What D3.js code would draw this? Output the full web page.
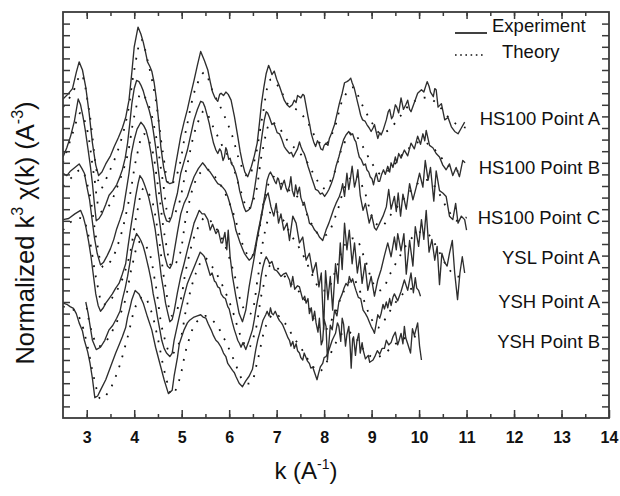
<!DOCTYPE html>
<html><head><meta charset="utf-8">
<script src="https://cdn.jsdelivr.net/npm/d3@7"></script>
<style>body{margin:0;background:#fff}svg{display:block}text{font-family:"Liberation Sans",Arial,sans-serif}</style>
</head><body><svg id="c" width="620" height="496"></svg>
<script>
// ---------------- data ----------------
const xTicks = [3,4,5,6,7,8,9,10,11,12,13,14];
const seriesNames = ["HS100 Point A","HS100 Point B","HS100 Point C","YSL Point A","YSH Point A","YSH Point B"];
const labelLevels = [25.9, 21.6, 17.3, 13.9, 10.1, 6.6];

const expA = [[2.50,27.5],[2.60,27.9],[2.70,28.4],[2.78,29.8],[2.84,30.7],[2.91,30.0],[2.98,28.5],[3.05,26.3],[3.12,23.7],[3.19,21.8],[3.25,20.9],[3.32,21.2],[3.40,21.9],[3.50,22.6],[3.58,23.4],[3.67,24.2],[3.75,25.0],[3.82,25.9],[3.89,27.4],[3.95,29.8],[4.00,32.0],[4.08,33.7],[4.14,33.1],[4.19,32.4],[4.24,31.5],[4.28,30.7],[4.33,30.3],[4.37,29.9],[4.42,28.9],[4.47,27.4],[4.52,25.4],[4.56,23.4],[4.62,21.6],[4.68,20.4],[4.75,20.2],[4.81,20.3],[4.88,22.0],[4.98,24.3],[5.05,25.5],[5.12,26.6],[5.19,27.9],[5.26,29.1],[5.33,30.4],[5.40,31.6],[5.48,30.8],[5.55,30.0],[5.60,29.0],[5.65,28.1],[5.70,27.6],[5.76,27.3],[5.80,27.9],[5.83,28.0],[5.88,27.8],[5.93,28.1],[5.98,27.9],[6.04,27.4],[6.11,26.0],[6.18,24.3],[6.23,23.0],[6.28,22.0],[6.33,21.2],[6.39,20.8],[6.47,21.7],[6.53,22.6],[6.59,23.7],[6.64,25.5],[6.68,27.1],[6.73,28.5],[6.78,29.7],[6.83,30.4],[6.87,30.0],[6.90,29.6],[6.95,29.9],[7.00,29.2],[7.06,28.6],[7.11,28.0],[7.16,27.4],[7.22,27.0],[7.27,26.8],[7.33,27.0],[7.37,27.4],[7.41,27.2],[7.44,27.8],[7.51,27.6],[7.55,27.9],[7.58,27.8],[7.62,26.9],[7.66,26.0],[7.70,25.2],[7.73,24.5],[7.78,23.8],[7.82,23.4],[7.86,23.9],[7.89,23.7],[7.93,23.2],[7.97,23.1],[8.00,23.5],[8.04,23.7],[8.08,23.5],[8.11,24.1],[8.16,24.6],[8.22,25.3],[8.27,26.2],[8.32,27.1],[8.38,28.0],[8.43,28.9],[8.48,29.0],[8.52,29.1],[8.56,29.3],[8.59,28.9],[8.63,28.5],[8.66,28.0],[8.70,27.3],[8.73,26.8],[8.77,26.1],[8.81,25.7],[8.86,25.6],[8.90,25.3],[8.95,25.0],[8.99,24.7],[9.03,25.0],[9.06,25.3],[9.10,24.6],[9.13,24.1],[9.17,24.6],[9.20,24.4],[9.25,24.9],[9.31,25.7],[9.35,26.4],[9.38,26.6],[9.42,25.8],[9.45,26.0],[9.50,27.0],[9.53,26.8],[9.57,26.3],[9.62,27.6],[9.67,26.6],[9.72,27.0],[9.76,27.4],[9.80,26.6],[9.83,26.4],[9.90,27.2],[9.97,28.0],[10.05,28.3],[10.10,28.1],[10.17,29.0],[10.21,28.6],[10.24,28.1],[10.30,27.7],[10.33,28.4],[10.36,28.3],[10.40,26.8],[10.47,27.1],[10.54,25.7],[10.61,25.9],[10.68,25.1],[10.75,24.7],[10.82,24.5],[10.89,25.0],[10.96,25.5]];
const expB = [[2.50,22.5],[2.58,23.3],[2.66,24.3],[2.74,25.6],[2.82,27.5],[2.87,27.0],[2.92,26.0],[2.97,24.8],[3.03,23.1],[3.08,21.6],[3.12,20.2],[3.16,18.5],[3.20,17.0],[3.26,17.2],[3.32,17.6],[3.40,18.4],[3.47,19.2],[3.55,19.6],[3.63,20.1],[3.69,20.7],[3.75,21.4],[3.81,22.4],[3.86,23.7],[3.91,25.5],[3.95,27.1],[4.00,28.4],[4.05,29.1],[4.10,29.0],[4.14,28.7],[4.19,28.2],[4.23,27.6],[4.27,27.1],[4.31,26.6],[4.36,25.8],[4.40,24.8],[4.45,23.4],[4.49,22.0],[4.54,20.3],[4.58,18.8],[4.63,17.6],[4.68,17.0],[4.74,16.9],[4.79,17.4],[4.84,18.3],[4.91,19.4],[4.98,21.1],[5.05,22.1],[5.12,23.1],[5.19,24.4],[5.26,25.7],[5.33,26.6],[5.40,27.3],[5.45,27.2],[5.49,26.8],[5.53,26.2],[5.58,25.4],[5.62,24.6],[5.67,23.7],[5.72,23.1],[5.76,22.8],[5.80,23.2],[5.83,23.0],[5.87,22.2],[5.90,22.5],[5.93,23.3],[5.95,23.1],[5.99,22.3],[6.02,22.4],[6.05,21.9],[6.09,21.7],[6.14,21.1],[6.18,20.5],[6.22,19.6],[6.27,18.8],[6.31,18.2],[6.35,17.8],[6.40,17.9],[6.45,18.1],[6.50,18.9],[6.54,19.9],[6.59,21.3],[6.64,22.8],[6.69,24.3],[6.74,25.7],[6.78,26.4],[6.81,26.3],[6.85,25.9],[6.90,25.3],[6.94,25.4],[6.97,25.1],[7.01,24.6],[7.06,24.5],[7.11,24.0],[7.16,23.4],[7.21,23.1],[7.27,22.8],[7.31,22.9],[7.35,22.5],[7.40,22.9],[7.44,23.2],[7.48,23.8],[7.51,23.4],[7.55,23.0],[7.58,22.8],[7.62,22.3],[7.66,21.7],[7.70,21.2],[7.73,20.8],[7.78,20.2],[7.82,19.7],[7.87,19.6],[7.92,19.3],[7.96,19.4],[8.01,19.1],[8.06,19.4],[8.10,19.7],[8.15,20.2],[8.20,20.8],[8.25,21.7],[8.31,22.5],[8.36,23.3],[8.41,24.0],[8.46,24.4],[8.52,24.7],[8.56,24.4],[8.60,24.5],[8.64,24.0],[8.67,23.8],[8.71,23.0],[8.74,22.5],[8.78,22.3],[8.83,21.8],[8.87,21.9],[8.90,21.4],[8.94,21.2],[8.97,20.8],[9.01,20.6],[9.04,20.1],[9.07,20.7],[9.10,21.1],[9.14,20.4],[9.17,20.4],[9.21,21.0],[9.25,21.4],[9.29,21.0],[9.34,21.7],[9.38,21.2],[9.41,22.0],[9.45,21.6],[9.50,22.5],[9.53,22.0],[9.57,22.8],[9.62,22.4],[9.69,23.1],[9.76,22.6],[9.83,23.7],[9.90,23.2],[9.97,24.3],[10.03,23.6],[10.08,24.5],[10.12,23.9],[10.15,24.8],[10.22,23.5],[10.29,23.3],[10.36,22.8],[10.43,22.5],[10.50,21.8],[10.57,21.4],[10.64,21.9],[10.71,20.9],[10.78,21.6],[10.85,20.8],[10.92,22.2],[10.97,22.0]];
const expC = [[2.50,21.1],[2.58,20.9],[2.66,21.3],[2.75,21.6],[2.84,21.9],[2.90,21.5],[2.95,21.1],[3.00,20.0],[3.06,18.8],[3.11,17.2],[3.16,15.6],[3.22,14.2],[3.29,13.2],[3.35,13.4],[3.43,14.0],[3.50,14.6],[3.57,15.4],[3.63,16.3],[3.70,17.1],[3.77,18.0],[3.84,19.8],[3.89,21.1],[3.94,22.8],[4.00,24.0],[4.06,24.9],[4.14,25.5],[4.20,25.2],[4.25,24.8],[4.30,24.0],[4.35,22.9],[4.41,21.2],[4.46,19.3],[4.52,17.4],[4.58,15.6],[4.64,14.0],[4.70,13.1],[4.75,12.9],[4.80,13.3],[4.84,14.3],[4.91,16.0],[4.98,17.6],[5.05,18.5],[5.12,19.1],[5.19,20.0],[5.26,20.8],[5.35,21.5],[5.44,22.0],[5.50,21.7],[5.55,21.4],[5.60,21.2],[5.65,20.9],[5.71,20.5],[5.76,20.2],[5.81,20.1],[5.86,19.9],[5.92,19.6],[5.97,19.1],[6.02,18.4],[6.07,17.6],[6.11,16.9],[6.14,16.2],[6.19,15.6],[6.23,15.1],[6.28,14.6],[6.32,14.2],[6.37,13.9],[6.42,13.6],[6.47,13.8],[6.52,14.2],[6.56,15.0],[6.60,15.9],[6.66,17.1],[6.71,18.2],[6.76,19.4],[6.80,20.5],[6.84,21.0],[6.87,21.2],[6.92,20.8],[6.96,20.4],[6.99,20.2],[7.02,20.7],[7.04,20.6],[7.07,20.1],[7.09,19.7],[7.13,20.2],[7.16,20.5],[7.20,19.8],[7.23,19.5],[7.27,20.0],[7.30,20.8],[7.33,19.6],[7.37,19.1],[7.40,20.1],[7.44,19.3],[7.48,19.9],[7.51,19.0],[7.55,18.5],[7.58,18.6],[7.62,17.9],[7.66,17.4],[7.69,16.8],[7.75,16.6],[7.80,16.2],[7.85,16.0],[7.90,15.6],[7.97,15.3],[8.04,16.2],[8.10,16.8],[8.15,17.4],[8.20,18.0],[8.25,18.5],[8.32,19.1],[8.36,19.6],[8.39,20.2],[8.43,19.1],[8.48,21.1],[8.52,19.7],[8.55,20.5],[8.59,21.7],[8.64,19.9],[8.68,20.6],[8.71,21.4],[8.76,19.2],[8.82,17.9],[8.87,18.5],[8.95,16.8],[9.00,17.5],[9.06,16.4],[9.10,16.2],[9.17,16.8],[9.24,17.4],[9.31,18.2],[9.36,19.7],[9.41,18.0],[9.48,19.1],[9.52,17.8],[9.56,19.4],[9.61,17.4],[9.66,19.3],[9.73,18.0],[9.80,20.2],[9.87,18.8],[9.94,19.9],[10.01,21.1],[10.08,19.9],[10.13,22.2],[10.19,20.5],[10.24,21.6],[10.31,18.7],[10.36,21.3],[10.43,19.6],[10.50,19.4],[10.57,19.1],[10.64,17.4],[10.71,17.1],[10.77,18.5],[10.82,16.8],[10.89,17.4],[10.96,17.1],[11.00,16.2]];
const expYSL = [[2.50,17.1],[2.62,17.2],[2.75,17.6],[2.87,17.9],[2.93,17.3],[2.98,16.5],[3.04,15.2],[3.09,13.9],[3.14,12.3],[3.19,10.7],[3.24,9.7],[3.29,9.2],[3.35,9.5],[3.40,9.9],[3.47,10.3],[3.54,10.7],[3.61,11.2],[3.68,11.6],[3.75,12.4],[3.82,13.3],[3.87,14.8],[3.93,16.5],[3.98,17.8],[4.03,19.1],[4.08,20.2],[4.12,20.9],[4.17,20.6],[4.21,20.2],[4.26,19.6],[4.30,19.1],[4.35,18.2],[4.39,17.4],[4.44,16.3],[4.48,15.1],[4.53,13.6],[4.57,12.2],[4.62,11.0],[4.66,9.9],[4.71,9.0],[4.75,8.3],[4.80,8.5],[4.84,9.2],[4.91,10.8],[4.98,12.2],[5.05,13.3],[5.12,14.5],[5.19,15.6],[5.26,16.8],[5.32,17.4],[5.37,17.9],[5.43,17.6],[5.48,17.6],[5.55,17.1],[5.60,16.2],[5.65,16.7],[5.72,15.9],[5.77,16.2],[5.83,15.1],[5.86,15.1],[5.91,16.0],[5.95,14.5],[5.98,16.2],[6.02,13.9],[6.07,12.2],[6.14,10.5],[6.21,9.0],[6.28,8.3],[6.35,9.3],[6.42,11.3],[6.47,12.5],[6.53,13.9],[6.58,15.2],[6.64,16.5],[6.69,17.6],[6.73,18.5],[6.78,19.1],[6.82,19.4],[6.88,18.2],[6.94,17.4],[6.99,18.5],[7.04,16.8],[7.09,17.6],[7.15,16.2],[7.22,16.8],[7.27,15.3],[7.34,17.4],[7.41,16.8],[7.48,15.1],[7.55,15.6],[7.62,13.6],[7.69,14.2],[7.76,12.5],[7.83,13.4],[7.89,11.3],[7.94,12.5],[7.99,7.6],[8.03,12.7],[8.08,10.2],[8.13,12.2],[8.18,9.3],[8.24,13.3],[8.29,11.6],[8.34,15.1],[8.38,12.8],[8.43,16.8],[8.48,14.5],[8.53,16.2],[8.59,13.3],[8.64,15.1],[8.70,12.5],[8.75,13.9],[8.80,11.6],[8.86,13.3],[8.92,11.0],[8.99,12.2],[9.06,10.5],[9.13,11.9],[9.20,12.8],[9.27,14.0],[9.34,15.1],[9.41,13.9],[9.48,15.6],[9.52,14.5],[9.55,15.9],[9.62,14.4],[9.68,15.9],[9.73,12.4],[9.80,15.3],[9.87,13.1],[9.92,16.5],[9.99,14.8],[10.05,17.1],[10.10,15.4],[10.15,17.9],[10.21,14.3],[10.27,15.4],[10.33,13.6],[10.38,14.8],[10.43,11.5],[10.48,14.2],[10.54,13.4],[10.59,13.1],[10.64,14.2],[10.70,15.3],[10.75,12.5],[10.81,10.2],[10.86,12.5],[10.91,13.9],[10.96,12.5]];
const expYSHA = [[2.98,10.0],[3.03,9.0],[3.06,8.2],[3.12,6.7],[3.20,5.9],[3.29,6.1],[3.38,6.7],[3.47,7.6],[3.55,8.0],[3.63,8.6],[3.70,9.2],[3.75,10.2],[3.81,11.2],[3.86,12.2],[3.91,13.4],[3.95,14.5],[4.00,15.3],[4.05,15.9],[4.10,15.6],[4.14,15.3],[4.19,14.8],[4.23,14.2],[4.27,13.5],[4.31,12.8],[4.36,11.8],[4.40,10.7],[4.45,9.7],[4.49,8.7],[4.54,7.6],[4.58,6.7],[4.63,6.0],[4.68,5.6],[4.75,5.3],[4.80,5.6],[4.84,6.7],[4.91,8.0],[4.98,9.3],[5.05,10.5],[5.12,11.6],[5.19,12.3],[5.26,13.0],[5.33,13.7],[5.39,14.3],[5.44,14.1],[5.48,13.9],[5.52,13.4],[5.55,13.0],[5.60,12.3],[5.64,12.5],[5.69,11.8],[5.72,11.7],[5.76,11.3],[5.80,11.2],[5.83,10.7],[5.88,10.4],[5.92,10.3],[5.97,9.6],[6.00,9.4],[6.04,8.7],[6.07,8.2],[6.11,7.6],[6.15,7.1],[6.18,6.7],[6.22,6.4],[6.25,6.1],[6.29,6.5],[6.32,6.2],[6.35,5.9],[6.42,6.7],[6.49,7.6],[6.53,8.5],[6.56,9.3],[6.60,10.2],[6.64,11.0],[6.67,12.1],[6.71,13.0],[6.75,13.6],[6.78,13.9],[6.82,13.6],[6.85,13.3],[6.90,13.5],[6.95,12.8],[7.00,12.7],[7.04,12.5],[7.09,12.2],[7.14,12.4],[7.20,12.5],[7.27,11.9],[7.30,11.3],[7.34,12.2],[7.38,11.1],[7.44,11.4],[7.48,11.3],[7.55,10.2],[7.59,10.5],[7.62,9.9],[7.66,10.3],[7.69,9.0],[7.73,9.5],[7.76,8.4],[7.80,9.2],[7.83,8.2],[7.87,7.4],[7.90,8.6],[7.94,6.3],[7.97,6.7],[8.00,8.5],[8.04,7.9],[8.07,5.0],[8.10,6.4],[8.13,8.0],[8.17,7.6],[8.22,9.3],[8.27,8.8],[8.31,10.0],[8.38,10.7],[8.42,11.2],[8.46,11.6],[8.50,11.4],[8.53,12.2],[8.57,11.7],[8.60,12.0],[8.64,11.4],[8.67,11.0],[8.72,10.4],[8.77,10.3],[8.82,9.3],[8.87,9.0],[8.91,8.7],[8.95,8.3],[8.99,7.9],[9.03,7.6],[9.06,7.3],[9.10,8.2],[9.13,8.9],[9.17,8.6],[9.20,9.0],[9.24,9.8],[9.27,9.4],[9.31,10.0],[9.34,9.5],[9.38,10.3],[9.41,9.7],[9.45,10.4],[9.48,10.7],[9.55,10.1],[9.62,10.9],[9.69,11.9],[9.76,11.0],[9.83,12.5],[9.88,10.8],[9.92,12.1],[9.95,11.2],[9.99,11.0],[10.03,10.5]];
const expYSHB = [[2.50,9.9],[2.58,9.8],[2.65,9.6],[2.72,9.45],[2.78,9.0],[2.84,8.2],[2.91,7.5],[2.95,6.7],[3.02,5.7],[3.07,4.7],[3.12,3.4],[3.17,1.75],[3.23,1.9],[3.29,2.4],[3.40,3.3],[3.50,4.4],[3.61,5.6],[3.68,6.3],[3.75,7.0],[3.82,7.8],[3.86,8.7],[3.91,9.5],[3.95,10.2],[4.02,11.0],[4.10,10.7],[4.19,9.9],[4.28,8.7],[4.37,7.6],[4.45,6.1],[4.54,4.7],[4.63,3.3],[4.72,2.1],[4.80,2.4],[4.84,3.6],[4.91,5.2],[4.95,6.4],[5.05,7.6],[5.12,8.2],[5.16,8.4],[5.26,8.7],[5.33,8.8],[5.40,8.9],[5.45,8.7],[5.51,8.6],[5.56,8.1],[5.62,7.6],[5.67,7.1],[5.72,6.7],[5.77,6.5],[5.83,6.1],[5.88,5.6],[5.93,5.3],[5.97,4.7],[6.02,4.4],[6.07,4.1],[6.11,3.9],[6.14,3.6],[6.21,3.0],[6.28,2.7],[6.35,3.2],[6.42,3.6],[6.49,4.2],[6.52,4.9],[6.56,5.9],[6.60,6.7],[6.64,7.3],[6.71,8.4],[6.77,8.9],[6.80,9.2],[6.84,8.8],[6.87,9.5],[6.90,9.0],[6.93,8.9],[6.97,9.2],[7.02,8.7],[7.06,8.4],[7.10,8.2],[7.13,8.0],[7.17,7.6],[7.20,7.3],[7.24,6.9],[7.27,6.7],[7.30,6.2],[7.34,6.6],[7.37,6.0],[7.41,6.4],[7.44,5.8],[7.48,5.6],[7.51,5.2],[7.55,5.0],[7.58,5.6],[7.62,5.2],[7.65,4.9],[7.69,4.7],[7.72,4.3],[7.76,4.4],[7.80,3.9],[7.85,3.3],[7.88,3.8],[7.92,4.4],[7.97,4.7],[8.00,5.2],[8.04,5.3],[8.08,5.6],[8.13,6.2],[8.17,6.7],[8.24,7.3],[8.28,8.2],[8.31,7.9],[8.35,6.6],[8.38,8.6],[8.41,8.1],[8.45,6.2],[8.48,7.2],[8.52,7.9],[8.55,6.0],[8.57,4.3],[8.60,6.8],[8.62,7.0],[8.66,5.4],[8.69,6.6],[8.73,7.3],[8.76,5.6],[8.80,6.5],[8.82,5.9],[8.87,5.1],[8.93,5.4],[8.96,4.8],[9.03,5.0],[9.08,5.4],[9.12,5.8],[9.17,5.5],[9.22,6.0],[9.27,6.0],[9.31,6.7],[9.36,6.3],[9.41,6.5],[9.45,7.0],[9.50,7.4],[9.55,6.3],[9.58,6.7],[9.62,7.3],[9.66,6.4],[9.69,7.9],[9.72,6.9],[9.76,6.4],[9.82,5.6],[9.86,7.7],[9.90,7.1],[9.97,8.2],[10.01,6.2],[10.05,5.0]];

const thA = [[2.5,26.8],[2.7,28.0],[2.88,29.6],[3.05,26.5],[3.2,21.5],[3.3,19.8],[3.45,21.0],[3.65,23.0],[3.85,26.0],[4.0,30.0],[4.15,32.6],[4.3,30.5],[4.45,27.5],[4.6,23.0],[4.75,20.0],[4.9,21.0],[5.1,25.0],[5.3,28.5],[5.48,29.8],[5.65,28.2],[5.85,26.5],[6.05,24.5],[6.25,21.8],[6.4,20.8],[6.55,22.5],[6.7,26.0],[6.88,29.2],[7.05,28.5],[7.25,27.0],[7.45,26.5],[7.65,25.5],[7.85,24.0],[8.0,23.5],[8.2,24.8],[8.4,27.5],[8.6,28.5],[8.8,27.0],[9.0,25.5],[9.2,24.5],[9.4,25.0],[9.6,26.0],[9.8,27.0],[10.0,27.5],[10.2,27.6],[10.4,27.0],[10.6,26.0],[10.8,25.3],[11.0,25.0]];
const thB = [[2.5,22.0],[2.7,24.5],[2.87,26.3],[3.0,25.0],[3.15,21.0],[3.3,17.8],[3.45,18.2],[3.65,20.0],[3.85,22.5],[4.0,26.0],[4.15,28.0],[4.3,27.0],[4.45,24.5],[4.6,20.5],[4.75,17.2],[4.9,18.0],[5.1,21.5],[5.3,25.0],[5.48,26.5],[5.65,25.2],[5.85,23.5],[6.05,22.0],[6.25,19.5],[6.4,18.0],[6.55,19.3],[6.7,23.0],[6.88,25.5],[7.05,25.0],[7.25,23.8],[7.45,23.0],[7.65,22.0],[7.85,20.5],[8.0,19.8],[8.2,21.0],[8.4,23.5],[8.6,24.6],[8.8,23.5],[9.0,22.0],[9.2,21.0],[9.4,21.5],[9.6,22.5],[9.8,23.3],[10.0,23.8],[10.2,23.6],[10.4,22.8],[10.6,21.8],[10.8,21.3],[11.0,21.5]];
const thC = [[2.5,20.0],[2.7,20.8],[2.88,21.4],[3.05,19.5],[3.2,15.5],[3.35,13.0],[3.5,13.5],[3.7,15.5],[3.9,19.0],[4.05,22.5],[4.2,24.5],[4.35,23.5],[4.5,20.0],[4.65,15.5],[4.8,13.0],[4.95,14.0],[5.1,17.5],[5.3,20.5],[5.5,21.5],[5.7,20.8],[5.9,19.5],[6.1,17.5],[6.3,14.8],[6.45,13.8],[6.6,15.5],[6.75,19.0],[6.92,20.8],[7.1,20.2],[7.3,19.5],[7.5,18.8],[7.7,17.0],[7.9,15.8],[8.05,15.8],[8.25,17.5],[8.45,20.0],[8.65,21.0],[8.85,19.5],[9.05,17.0],[9.2,16.5],[9.4,17.5],[9.6,18.5],[9.8,19.5],[10.0,20.3],[10.2,20.5],[10.4,19.5],[10.6,18.0],[10.8,17.0],[11.0,17.3]];
const thYSL = [[2.5,16.2],[2.7,17.0],[2.9,17.2],[3.05,15.5],[3.2,12.0],[3.35,9.8],[3.5,10.2],[3.7,11.5],[3.9,14.0],[4.05,17.5],[4.2,19.8],[4.35,19.0],[4.5,16.0],[4.65,11.5],[4.8,8.8],[4.95,9.8],[5.1,13.0],[5.3,16.0],[5.5,17.3],[5.7,16.5],[5.9,15.0],[6.1,12.5],[6.3,9.5],[6.45,9.0],[6.6,12.0],[6.75,16.0],[6.92,18.0],[7.1,17.3],[7.3,15.8],[7.5,14.5],[7.7,12.8],[7.9,11.2],[8.05,11.0],[8.25,12.8],[8.45,15.0],[8.65,15.5],[8.85,13.8],[9.05,11.5],[9.2,11.0],[9.4,12.5],[9.6,14.0],[9.8,15.3],[10.0,16.0],[10.2,15.8],[10.4,14.5],[10.6,13.0],[10.8,12.2],[11.0,12.5]];
const thYSHA = [[3.0,9.5],[3.1,7.5],[3.25,6.2],[3.4,6.6],[3.6,8.0],[3.8,10.0],[3.95,13.0],[4.12,15.2],[4.28,14.6],[4.45,11.5],[4.6,7.5],[4.78,5.5],[4.95,6.5],[5.1,9.5],[5.3,12.5],[5.48,13.8],[5.65,13.0],[5.85,11.5],[6.05,9.5],[6.25,7.0],[6.4,6.0],[6.55,7.5],[6.7,11.0],[6.88,13.2],[7.05,12.8],[7.25,11.8],[7.45,11.0],[7.65,9.8],[7.85,8.0],[8.0,7.5],[8.2,8.8],[8.4,10.8],[8.6,12.0],[8.8,10.5],[9.0,8.5],[9.15,7.8],[9.35,9.0],[9.55,10.2],[9.75,11.0],[10.0,11.3]];
const thYSHB = [[2.5,9.6],[2.7,9.4],[2.85,8.6],[3.0,6.5],[3.15,3.5],[3.3,1.6],[3.45,2.2],[3.65,4.0],[3.85,6.8],[4.05,9.8],[4.2,10.5],[4.35,9.3],[4.5,6.8],[4.65,3.8],[4.8,2.0],[4.95,3.3],[5.1,6.0],[5.3,8.2],[5.5,8.8],[5.7,8.2],[5.9,6.8],[6.1,5.0],[6.3,3.2],[6.45,3.0],[6.6,5.0],[6.78,8.0],[6.95,9.0],[7.15,8.3],[7.35,7.0],[7.55,5.8],[7.75,4.5],[7.9,4.0],[8.05,4.8],[8.25,6.5],[8.45,7.5],[8.65,7.0],[8.85,5.8],[9.05,5.2],[9.25,5.5],[9.45,6.2],[9.65,6.8],[9.85,7.0],[10.0,7.0]];

const experiments = [expA, expB, expC, expYSL, expYSHA, expYSHB];
const theories = [thA, thB, thC, thYSL, thYSHA, thYSHB];

// ---------------- chart ----------------
const svg = d3.select("#c");
const L = 63, R = 609, T = 12, B = 418;
const x = d3.scaleLinear().domain([2.5, 14]).range([L, R]);
const y = d3.scaleLinear().domain([0, 35]).range([B, T]);
const axisColor = "#3a3a3a";

svg.append("defs").append("clipPath").attr("id","pc")
  .append("rect").attr("x",L).attr("y",T).attr("width",R-L).attr("height",B-T);

const line = d3.line().x(d=>x(d[0])).y(d=>y(d[1]));
const smooth = d3.line().x(d=>x(d[0])).y(d=>y(d[1])).curve(d3.curveCatmullRom.alpha(0.5));

const g = svg.append("g").attr("clip-path","url(#pc)");
theories.forEach(t => g.append("path").attr("d", smooth(t)).attr("fill","none")
  .attr("stroke","#111").attr("stroke-width",1.8).attr("stroke-dasharray","1.8,8.5"));
experiments.forEach(e => g.append("path").attr("d", line(e)).attr("fill","none")
  .attr("stroke","#2e2e2e").attr("stroke-width",1.35).attr("stroke-linejoin","round"));

// axes (ticks pointing inward)
const minorX = d3.range(3, 14, 0.5);
const yt = d3.range(1, 35, 1);
function styleAxis(sel){
  sel.select(".domain").remove();
  sel.selectAll(".tick line").attr("stroke",axisColor).attr("stroke-width",1.5);
}
svg.append("g").attr("transform",`translate(0,${B})`)
  .call(d3.axisBottom(x).tickValues(minorX).tickSize(-4).tickFormat("")).call(styleAxis);
svg.append("g").attr("transform",`translate(0,${B})`)
  .call(d3.axisBottom(x).tickValues(xTicks).tickSize(-8).tickPadding(14).tickFormat(d3.format("d")))
  .call(styleAxis)
  .call(s=>s.selectAll("text").attr("font-size",16).attr("font-weight","bold")
    .attr("font-family",'"Liberation Sans",Arial,sans-serif').attr("fill","#111"));
svg.append("g").attr("transform",`translate(0,${T})`)
  .call(d3.axisTop(x).tickValues(minorX).tickSize(-4).tickFormat("")).call(styleAxis);
svg.append("g").attr("transform",`translate(0,${T})`)
  .call(d3.axisTop(x).tickValues(xTicks.slice(0,-1)).tickSize(-7).tickFormat("")).call(styleAxis);
svg.append("g").attr("transform",`translate(${L},0)`)
  .call(d3.axisLeft(y).tickValues(yt).tickSize(-7).tickFormat("")).call(styleAxis);
svg.append("g").attr("transform",`translate(${R},0)`)
  .call(d3.axisRight(y).tickValues(yt).tickSize(-7).tickFormat("")).call(styleAxis);
svg.append("rect").attr("x",L).attr("y",T).attr("width",R-L).attr("height",B-T)
  .attr("fill","none").attr("stroke",axisColor).attr("stroke-width",1.8);

// series labels
svg.append("g").selectAll("text").data(seriesNames).join("text")
  .attr("x", 600).attr("y",(d,i)=>y(labelLevels[i])+7)
  .attr("text-anchor","end").attr("font-size",18.5).attr("fill","#111").text(d=>d);

// legend
svg.append("line").attr("x1",455).attr("x2",487).attr("y1",33).attr("y2",33)
  .attr("stroke","#111").attr("stroke-width",1.6);
svg.append("text").attr("x",492).attr("y",32).attr("font-size",18.5).attr("fill","#111").text("Experiment");
svg.append("line").attr("x1",455).attr("x2",486).attr("y1",55).attr("y2",55)
  .attr("stroke","#111").attr("stroke-width",1.6).attr("stroke-dasharray","1.6,3.6");
svg.append("text").attr("x",502).attr("y",58).attr("font-size",18.5).attr("fill","#111").text("Theory");

// axis titles
const xt = svg.append("text").attr("x",306).attr("y",479).attr("text-anchor","middle")
  .attr("font-size",24).attr("fill","#111");
xt.append("tspan").text("k (A");
xt.append("tspan").attr("font-size",14).attr("dy",-10).text("-1");
xt.append("tspan").attr("dy",10).text(")");

const ytl = svg.append("text").attr("transform","translate(34,233) rotate(-90)")
  .attr("text-anchor","middle").attr("font-size",25.5).attr("fill","#111");
ytl.append("tspan").text("Normalized k");
ytl.append("tspan").attr("font-size",16).attr("dy",-11).text("3");
ytl.append("tspan").attr("dy",11).text(" \u03C7(k) (A");
ytl.append("tspan").attr("font-size",16).attr("dy",-11).text("-3");
ytl.append("tspan").attr("dy",11).text(")");
</script></body></html>
